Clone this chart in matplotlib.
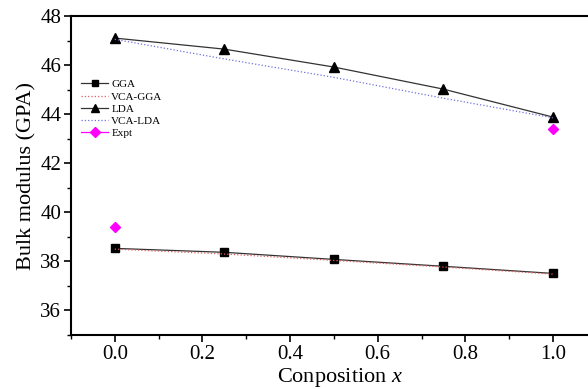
import matplotlib
matplotlib.use("Agg")
import matplotlib.pyplot as plt
from matplotlib.lines import Line2D
from matplotlib.ticker import MultipleLocator

plt.rcParams['font.family'] = ['Liberation Serif', 'DejaVu Serif']
plt.rcParams['mathtext.fontset'] = 'custom'
plt.rcParams['mathtext.it'] = 'Liberation Serif:italic'

x = [0.0, 0.25, 0.5, 0.75, 1.0]
gga = [38.53, 38.37, 38.08, 37.80, 37.51]
vca_gga = [38.50, 38.30, 38.04, 37.77, 37.48]
lda = [47.10, 46.65, 45.92, 45.02, 43.88]
vca_lda = [47.05, 46.25, 45.50, 44.65, 43.85]
expt_x = [0.0, 1.0]
expt = [39.40, 43.40]

fig = plt.figure(figsize=(5.88, 3.89), dpi=100)
ax = fig.add_axes([71/588, 54/389, 1 - 71/588, (335-16)/389])

ax.plot(x, gga, '-', color='#333333', lw=0.9, marker='s', ms=6, mfc='black', mec='black', label='GGA')
ax.plot(x, vca_gga, ':', color='#e06060', lw=0.9, label='VCA-GGA')
ax.plot(x, lda, '-', color='#333333', lw=0.9, marker='^', ms=7, mfc='black', mec='black', label='LDA')
ax.plot(x, vca_lda, ':', color='#7070e0', lw=0.9, label='VCA-LDA')
ax.plot(expt_x, expt, 'D', color='magenta', ms=5.5, ls='none')

handles = [
    Line2D([], [], color='#333333', lw=0.9, marker='s', ms=5, mfc='black', mec='black'),
    Line2D([], [], color='#e06060', lw=0.9, ls=':'),
    Line2D([], [], color='#333333', lw=0.9, marker='^', ms=6, mfc='black', mec='black'),
    Line2D([], [], color='#7070e0', lw=0.9, ls=':'),
    Line2D([], [], color='magenta', lw=0.9, marker='D', ms=5, mfc='magenta', mec='magenta'),
]
labels = ['GGA', 'VCA-GGA', 'LDA', 'VCA-LDA', 'Expt']
ax.legend(handles, labels, loc='upper left', bbox_to_anchor=(0.005, 0.825), frameon=False,
          fontsize=8, handlelength=2.4, handletextpad=0.3, labelspacing=0.22, borderpad=0.2)

ax.set_xlim(-0.1, 1.08)
ax.set_ylim(35, 48)
ax.xaxis.set_minor_locator(MultipleLocator(0.1))
ax.yaxis.set_minor_locator(MultipleLocator(1))
ax.set_xticks([0.0, 0.2, 0.4, 0.6, 0.8, 1.0])
ax.set_yticks([36, 38, 40, 42, 44, 46, 48])
ax.set_yticklabels(['36', '38', '40', '42', '44', '46', '48'])
ax.set_xticklabels(['0.0', '0.2', '0.4', '0.6', '0.8', '1.0'])

ax.spines['right'].set_visible(False)
for s in ['left', 'bottom', 'top']:
    ax.spines[s].set_linewidth(1.5)
ax.tick_params(axis='both', which='major', direction='out', length=5, width=1.2, labelsize=15, pad=2)
ax.tick_params(axis='both', which='minor', direction='out', length=3, width=1.0)
ax.tick_params(top=False, right=False, which='both')

ax.set_ylabel('Bulk modulus (GPA)', fontsize=16, labelpad=3)
ax.set_xlabel('Conposition $x$', fontsize=16, labelpad=1)
ax.xaxis.set_label_coords((340 - 71) / 517, -0.098)

fig.savefig('out.png', dpi=100)
